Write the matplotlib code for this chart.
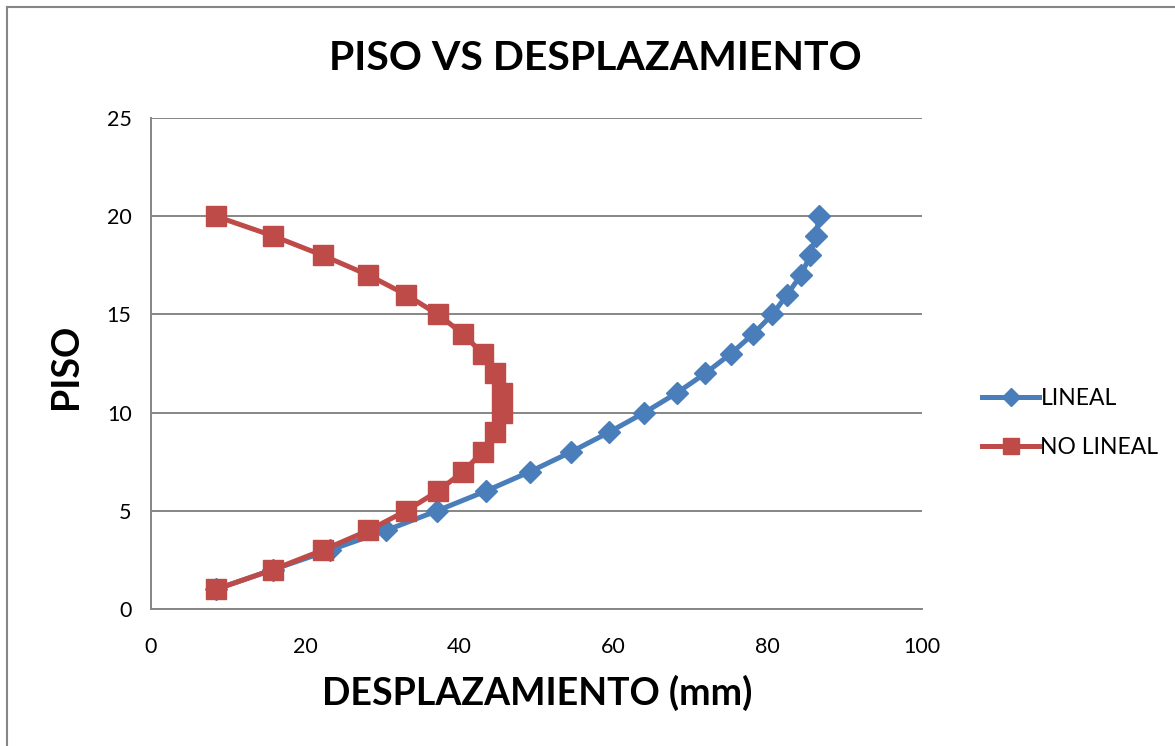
import matplotlib
matplotlib.use("Agg")
import matplotlib.pyplot as plt
from matplotlib.lines import Line2D

# Floor levels and lateral displacements (mm)
pisos = list(range(1, 21))
lineal = [8.4, 15.8, 23.2, 30.5, 37.1, 43.4, 49.2, 54.5, 59.4, 64.0,
          68.2, 71.9, 75.2, 78.1, 80.6, 82.5, 84.3, 85.5, 86.2, 86.7]
no_lineal = [8.4, 15.8, 22.3, 28.2, 33.1, 37.2, 40.5, 43.0, 44.6, 45.5,
             45.5, 44.6, 43.0, 40.5, 37.2, 33.1, 28.2, 22.3, 15.8, 8.4]

x_ticks = [0, 20, 40, 60, 80, 100]
y_ticks = [0, 5, 10, 15, 20, 25]

plt.rcParams['font.family'] = ['Lato', 'DejaVu Sans']

W, H = 1175, 746
fig = plt.figure(figsize=(W / 100, H / 100), dpi=100)
ax = fig.add_axes([151 / W, 1 - 609 / H, (922 - 151) / W, (609 - 118) / H])

blue = '#4a7ebb'
red = '#be4b48'
grid_c = '#868686'

ax.plot(lineal, pisos, color=blue, lw=3.6, marker='D', ms=11,
        markeredgecolor=blue, label='LINEAL', zorder=3)
ax.plot(no_lineal, pisos, color=red, lw=3.6, marker='s', ms=14,
        markeredgecolor=red, label='NO LINEAL', zorder=4)

ax.set_xlim(0, 100)
ax.set_ylim(0, 25)
ax.set_xticks(x_ticks)
ax.set_yticks(y_ticks)
ax.tick_params(length=0, labelsize=15.5, colors='black')
ax.tick_params(axis='y', pad=14)
ax.tick_params(axis='x', pad=20)
ax.yaxis.grid(True, color=grid_c, lw=1.4)
ax.set_axisbelow(True)
for s in ['top', 'right']:
    ax.spines[s].set_visible(False)
for s in ['left', 'bottom']:
    ax.spines[s].set_color(grid_c)
    ax.spines[s].set_linewidth(1.4)

fig.text(595 / W, 1 - 58 / H, 'PISO VS DESPLAZAMIENTO', ha='center', va='center',
         fontsize=29.5, fontweight='bold')
fig.text(537 / W, 1 - 693 / H, 'DESPLAZAMIENTO (mm)', ha='center', va='center',
         fontsize=27, fontweight='bold')
fig.text(66 / W, 1 - 366 / H, 'PISO', ha='center', va='center', rotation=90,
         fontsize=27, fontweight='bold')

leg = ax.legend(loc='center left', bbox_to_anchor=(982 / W, 1 - 423 / H),
                bbox_transform=fig.transFigure, frameon=False, fontsize=16.5,
                handlelength=2.5, handletextpad=0.05, labelspacing=1.2,
                borderpad=0, borderaxespad=0, markerscale=0.85)

# Chart area border (top and left edges)
fig.add_artist(Line2D([7 / W, 1], [1 - 7 / H, 1 - 7 / H], color=grid_c, lw=1.5,
                      transform=fig.transFigure))
fig.add_artist(Line2D([7 / W, 7 / W], [0, 1 - 7 / H], color=grid_c, lw=1.5,
                      transform=fig.transFigure))

fig.savefig('out.png', dpi=100, facecolor='white')
